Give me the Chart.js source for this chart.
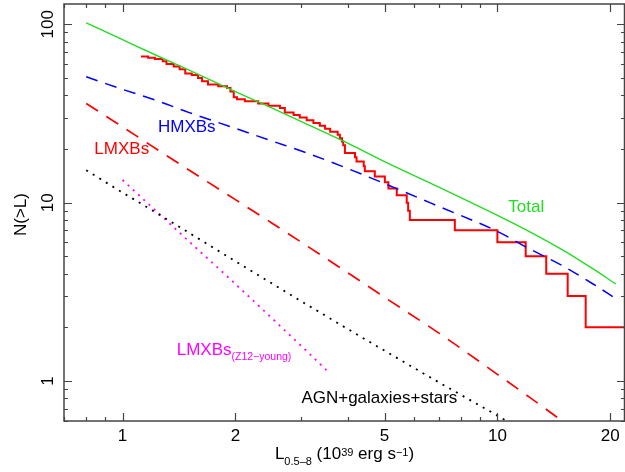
<!DOCTYPE html>
<html>
<head>
<meta charset="utf-8">
<script src="https://cdn.jsdelivr.net/npm/chart.js@4"></script>
<style>
  body { margin: 0; background: #fff; }
  canvas { display: block; }
</style>
</head>
<body>
<canvas id="xlf" width="625" height="472"></canvas>
<script>
// luminosity grid of the model curves (10^39 erg/s)
var modelL = [0.8, 1, 1.25, 1.5, 2, 2.5, 3, 4, 5, 7, 10, 12, 15, 18, 20.7];
var totalN = [102, 82, 66, 55.5, 42, 34, 28.5, 21.5, 17, 12.2, 8.5, 7.0, 5.4, 4.25, 3.5];
var hmxbN = [50.8, 43.2, 37.0, 32.1, 26.1, 22.2, 19.5, 15.5, 12.8, 9.5, 6.9, 5.6, 4.4, 3.5, 2.9];
var lmxbN = [36, 26.6, 19.6, 15.3, 10.4, 7.7, 6.0, 4.03, 2.95, 1.85, 1.09, 0.83, 0.59, 0.44, 0.36];
var agnN = [15.2, 11.4, 8.6, 6.8, 4.7, 3.53, 2.8, 1.95, 1.48, 0.98, 0.64, 0.51, 0.4, 0.32, 0.28];

// young LMXB model (Z12)
var youngL = [1, 1.5, 2, 3, 3.5];
var youngN = [13.4, 6.1, 3.5, 1.57, 1.15];

// observed cumulative distribution (step)
var stepL = [1.12, 1.17, 1.22, 1.28, 1.31, 1.37, 1.42, 1.47, 1.53, 1.59, 1.63, 1.69, 1.80, 1.90, 1.94, 1.98, 2.02, 2.12, 2.30, 2.45,
  2.63, 2.71, 2.86, 2.97, 3.10, 3.23, 3.36, 3.47, 3.58, 3.75, 3.80, 3.85, 3.88, 3.92, 4.17, 4.21, 4.40, 4.43, 4.71, 5.01,
  5.12, 5.39, 5.73, 5.78, 5.84, 7.7, 10.0, 11.9, 13.5, 15.4, 17.2, 23];
var stepN = [66, 65, 64, 62, 60, 58, 56, 53, 52, 50, 48, 46, 45, 44, 42, 39, 38, 37, 36, 35,
  34, 32, 31, 30, 29, 28, 27, 26, 25, 24, 23, 22, 21, 19, 18, 17, 16, 15, 14, 13,
  12, 11, 10, 9, 8, 7, 6, 5, 4, 3, 2, 2];

// tick labels
var xTicks = [1, 2, 5, 10, 20];
var yTicks = [1, 10, 100];

// text labels, anchored in data coordinates (left / baseline)
var seriesLabels = [
  { text: 'HMXBs', color: '#0000ff', L: 1.243, N: 25.0 },
  { text: 'LMXBs', color: '#ff0000', L: 0.841, N: 18.8 },
  { text: 'Total', color: '#22dd22', L: 10.69, N: 8.84 },
  { text: 'LMXBs', sub: '(Z12\u2212young)', color: '#ff00ff', L: 1.395, N: 1.40 },
  { text: 'AGN+galaxies+stars', color: '#000000', L: 3.0, N: 0.75 }
];

var FONT = "'Liberation Sans', Arial, sans-serif";

function toPoints(xs, ys) {
  var pts = [];
  for (var i = 0; i < xs.length; i++) {
    pts.push({ x: xs[i], y: ys[i] });
  }
  return pts;
}

// minor tick values inside a range
function minorValues(min, max, majors) {
  var out = [];
  for (var d = 0.1; d <= 100; d *= 10) {
    for (var k = 1; k <= 9; k++) {
      var v = Math.round(k * d * 1000) / 1000;
      if (v > min && v < max && majors.indexOf(v) < 0) out.push(v);
    }
  }
  return out;
}

// draw text pieces with sub/superscripts
function drawRich(ctx, parts, x, y, align) {
  var total = 0;
  parts.forEach(function (p) {
    ctx.font = p.s + 'px ' + FONT;
    p.w = ctx.measureText(p.t).width;
    total += p.w;
  });
  var cx = align === 'center' ? x - total / 2 : x;
  ctx.textAlign = 'left';
  ctx.textBaseline = 'alphabetic';
  parts.forEach(function (p) {
    ctx.font = p.s + 'px ' + FONT;
    ctx.fillText(p.t, cx, y + (p.dy || 0));
    cx += p.w;
  });
}

var framePlugin = {
  id: 'frame',
  afterDraw: function (chart) {
    var ctx = chart.ctx;
    var a = chart.chartArea;
    var xs = chart.scales.x;
    var ys = chart.scales.y;
    ctx.save();

    // box
    ctx.strokeStyle = '#444';
    ctx.lineWidth = 1.5;
    ctx.strokeRect(a.left, a.top, a.right - a.left - 0.5, a.bottom - a.top);

    // ticks pointing inward on all four sides
    ctx.lineWidth = 1.2;
    ctx.beginPath();
    var xMin = minorValues(xs.min, xs.max, xTicks);
    xTicks.concat(xMin).forEach(function (v) {
      var len = xTicks.indexOf(v) >= 0 ? 8 : 4;
      var px = Math.round(xs.getPixelForValue(v)) + 0.5;
      ctx.moveTo(px, a.bottom); ctx.lineTo(px, a.bottom - len);
      ctx.moveTo(px, a.top); ctx.lineTo(px, a.top + len);
    });
    var yMin = minorValues(ys.min, ys.max, yTicks);
    yTicks.concat(yMin).forEach(function (v) {
      var len = yTicks.indexOf(v) >= 0 ? 8 : 4;
      var py = Math.round(ys.getPixelForValue(v)) + 0.5;
      ctx.moveTo(a.left, py); ctx.lineTo(a.left + len, py);
      ctx.moveTo(a.right, py); ctx.lineTo(a.right - len, py);
    });
    ctx.stroke();

    // tick labels
    ctx.fillStyle = '#000';
    ctx.font = '17px ' + FONT;
    ctx.textAlign = 'center';
    ctx.textBaseline = 'alphabetic';
    xTicks.forEach(function (v) {
      ctx.fillText(String(v), xs.getPixelForValue(v), a.bottom + 20);
    });
    yTicks.forEach(function (v) {
      ctx.save();
      ctx.translate(a.left - 11, ys.getPixelForValue(v));
      ctx.rotate(-Math.PI / 2);
      ctx.fillText(String(v), 0, 0);
      ctx.restore();
    });

    // axis titles
    drawRich(ctx, [
      { t: 'L', s: 17 },
      { t: '0.5\u20138', s: 11, dy: 6 },
      { t: ' (10', s: 17 },
      { t: '39', s: 11, dy: -3 },
      { t: ' erg s', s: 17 },
      { t: '\u22121', s: 11, dy: -3 },
      { t: ')', s: 17 }
    ], (a.left + a.right) / 2, a.bottom + 38, 'center');

    ctx.save();
    ctx.translate(26, (a.top + a.bottom) / 2 + 2);
    ctx.rotate(-Math.PI / 2);
    ctx.font = '17px ' + FONT;
    ctx.textAlign = 'center';
    ctx.fillText('N(>L)', 0, 0);
    ctx.restore();

    // curve labels
    seriesLabels.forEach(function (lb) {
      ctx.fillStyle = lb.color;
      var parts = [{ t: lb.text, s: 17 }];
      if (lb.sub) parts.push({ t: lb.sub, s: 10.5, dy: 5 });
      drawRich(ctx, parts, xs.getPixelForValue(lb.L), ys.getPixelForValue(lb.N), 'left');
    });

    ctx.restore();
  }
};

var chart = new Chart(document.getElementById('xlf'), {
  type: 'line',
  data: {
    datasets: [
      {
        label: 'AGN+galaxies+stars',
        data: toPoints(modelL, agnN),
        borderColor: '#000000',
        borderWidth: 1.8,
        borderDash: [2, 5.7]
      },
      {
        label: 'LMXBs (Z12-young)',
        data: toPoints(youngL, youngN),
        borderColor: '#ff00ff',
        borderWidth: 1.8,
        borderDash: [2, 5.1]
      },
      {
        label: 'LMXBs',
        data: toPoints(modelL, lmxbN),
        borderColor: '#ff0000',
        borderWidth: 1.7,
        borderDash: [14, 10]
      },
      {
        label: 'HMXBs',
        data: toPoints(modelL, hmxbN),
        borderColor: '#0000ff',
        borderWidth: 1.5,
        borderDash: [12, 8]
      },
      {
        label: 'Total',
        data: toPoints(modelL, totalN),
        borderColor: '#22dd22',
        borderWidth: 1.4
      },
      {
        label: 'observed',
        data: toPoints(stepL, stepN),
        borderColor: '#ff0000',
        borderWidth: 2,
        stepped: 'before'
      }
    ]
  },
  options: {
    responsive: false,
    animation: false,
    layout: { padding: { left: 64, top: 4, right: 0, bottom: 51 } },
    elements: {
      point: { radius: 0 },
      line: { tension: 0.4, cubicInterpolationMode: 'monotone', fill: false }
    },
    plugins: { legend: { display: false }, tooltip: { enabled: false } },
    scales: {
      x: { type: 'logarithmic', min: 0.698, max: 21.9, display: false },
      y: { type: 'logarithmic', min: 0.597, max: 130, display: false }
    }
  },
  plugins: [framePlugin]
});
</script>
</body>
</html>
